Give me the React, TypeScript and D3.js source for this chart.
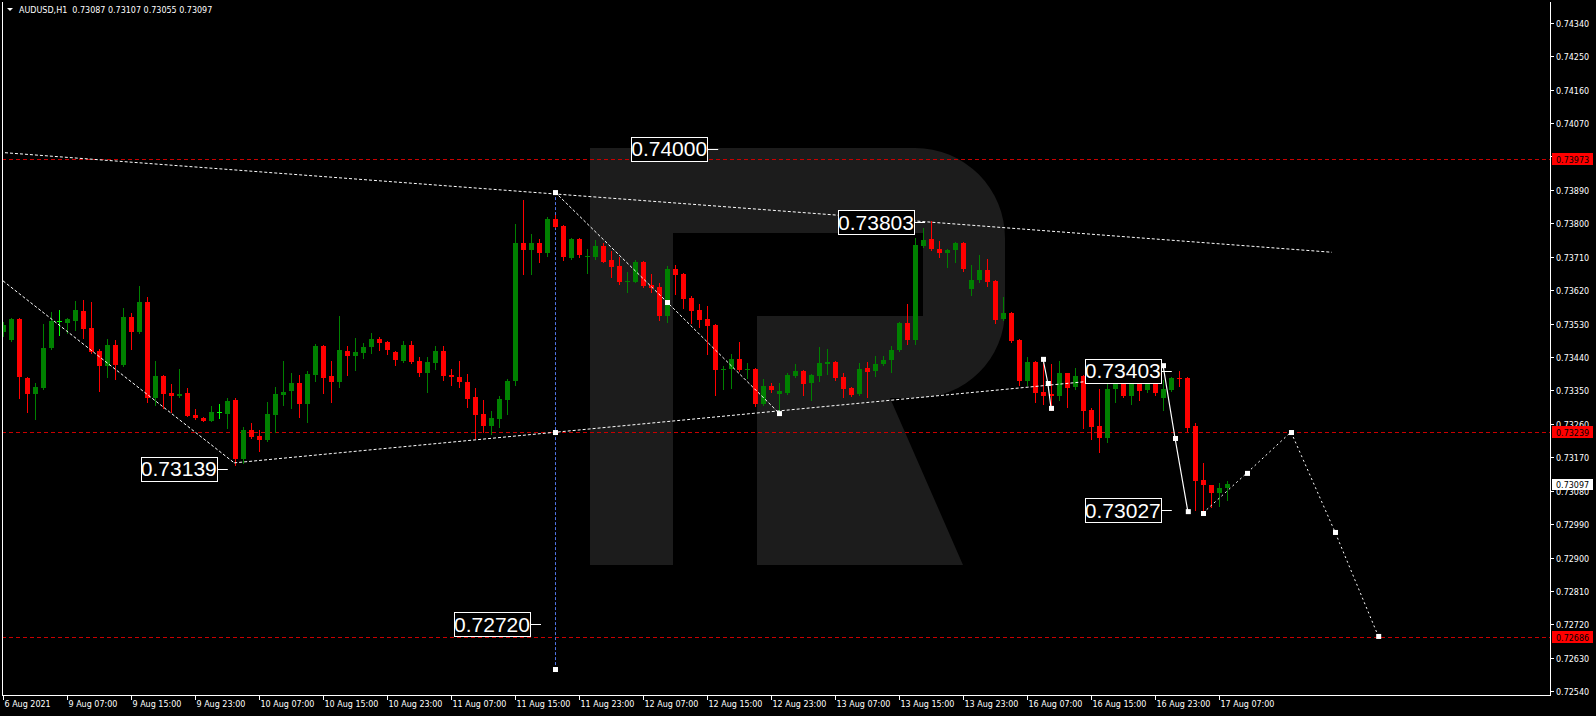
import React, { useEffect } from 'react';
import * as d3 from 'd3';

const W = 1596;
const H = 716;

const symbolName = 'AUDUSD,H1';
const headerValues = ['0.73087', '0.73107', '0.73055', '0.73097'];

const opens = [
  0.73508, 0.73486, 0.73543, 0.73383, 0.73341, 0.73357, 0.73464, 0.73536, 0.73532, 0.73537,
  0.73564, 0.73518, 0.73457, 0.73416, 0.73473, 0.73419, 0.73548, 0.73508, 0.73589, 0.7333,
  0.73389, 0.73343, 0.73335, 0.73343, 0.73285, 0.73276, 0.73268, 0.73292, 0.73287, 0.73324,
  0.73166, 0.73243, 0.73227, 0.73216, 0.73284, 0.73337, 0.73348, 0.7337, 0.73313, 0.73392,
  0.7347, 0.73389, 0.73373, 0.73456, 0.73443, 0.73451, 0.73467, 0.73489, 0.73481, 0.73454,
  0.73429, 0.73473, 0.7343, 0.73397, 0.73424, 0.73456, 0.73392, 0.73386, 0.73373, 0.73332,
  0.73286, 0.73255, 0.73273, 0.73324, 0.73375, 0.73748, 0.73729, 0.73748, 0.73721, 0.73812,
  0.73794, 0.73707, 0.73758, 0.7371, 0.7371, 0.7374, 0.737, 0.73686, 0.73643, 0.73643,
  0.73697, 0.73635, 0.73629, 0.73551, 0.73677, 0.73664, 0.73599, 0.73567, 0.73543, 0.73527,
  0.73405, 0.73408, 0.73435, 0.73405, 0.73408, 0.73313, 0.73362, 0.7334, 0.73343, 0.73389,
  0.73402, 0.7337, 0.73389, 0.73421, 0.73427, 0.73386, 0.73356, 0.7334, 0.7341, 0.73402,
  0.73421, 0.73432, 0.73459, 0.73532, 0.73486, 0.7374, 0.73759, 0.73732, 0.73721, 0.73729,
  0.73748, 0.73624, 0.73646, 0.73675, 0.73645, 0.73543, 0.73559, 0.73486, 0.73375, 0.73427,
  0.73346, 0.7334, 0.73335, 0.73397, 0.73359, 0.73389, 0.73297, 0.73254, 0.73222, 0.73354,
  0.73378, 0.73335, 0.73378, 0.73351, 0.73378, 0.73329, 0.73351, 0.73383, 0.73383, 0.73254,
  0.73109, 0.73095, 0.73074, 0.73087,
];
const highs = [
  0.73535, 0.73545, 0.73544, 0.73385, 0.7337, 0.73529, 0.73562, 0.73567, 0.73544, 0.73591,
  0.73594, 0.73588, 0.73461, 0.73489, 0.73486, 0.73573, 0.73559, 0.73632, 0.73602, 0.7343,
  0.73391, 0.73367, 0.73408, 0.73356, 0.733, 0.73278, 0.73309, 0.73313, 0.73329, 0.73329,
  0.73252, 0.73262, 0.73243, 0.73319, 0.73359, 0.7343, 0.73397, 0.73391, 0.73403, 0.73475,
  0.73472, 0.7343, 0.73551, 0.7347, 0.73491, 0.73478, 0.73505, 0.73494, 0.73482, 0.73455,
  0.73483, 0.73483, 0.7344, 0.7344, 0.7347, 0.7347, 0.73408, 0.7343, 0.73394, 0.73356,
  0.73324, 0.73294, 0.73335, 0.73381, 0.73799, 0.73863, 0.73772, 0.73759, 0.73818, 0.73823,
  0.73796, 0.7376, 0.73761, 0.73732, 0.73756, 0.73748, 0.73726, 0.7371, 0.73669, 0.73702,
  0.73699, 0.73664, 0.7364, 0.73685, 0.73688, 0.73667, 0.73605, 0.73583, 0.73578, 0.73529,
  0.73416, 0.73448, 0.73481, 0.73424, 0.7341, 0.73381, 0.7337, 0.7337, 0.73397, 0.73421,
  0.73405, 0.73394, 0.73467, 0.73462, 0.73429, 0.73397, 0.73358, 0.73424, 0.73427, 0.73443,
  0.73443, 0.7347, 0.73535, 0.73583, 0.73761, 0.73788, 0.73805, 0.73753, 0.73731, 0.7375,
  0.7375, 0.73688, 0.73715, 0.73705, 0.73648, 0.73602, 0.73561, 0.73489, 0.7344, 0.7343,
  0.73424, 0.73421, 0.7343, 0.73397, 0.7341, 0.73391, 0.73303, 0.73354, 0.73378, 0.73405,
  0.73383, 0.734, 0.7338, 0.73397, 0.73386, 0.73378, 0.73386, 0.73403, 0.73385, 0.73262,
  0.73155, 0.73096, 0.73101, 0.73107,
];
const lows = [
  0.73497, 0.73484, 0.7333, 0.73292, 0.73273, 0.73355, 0.73462, 0.735, 0.73505, 0.73513,
  0.73492, 0.73452, 0.73348, 0.73387, 0.73381, 0.73416, 0.73462, 0.73505, 0.73319, 0.73311,
  0.73303, 0.73291, 0.73332, 0.7328, 0.73274, 0.73267, 0.73267, 0.73276, 0.73248, 0.7315,
  0.73154, 0.73221, 0.73188, 0.73215, 0.73239, 0.7331, 0.73302, 0.73278, 0.73265, 0.73376,
  0.73343, 0.73319, 0.73359, 0.73391, 0.73405, 0.73437, 0.73451, 0.73459, 0.73448, 0.73419,
  0.73427, 0.73425, 0.73389, 0.73346, 0.73408, 0.73378, 0.73365, 0.73359, 0.73305, 0.73223,
  0.73239, 0.73233, 0.73252, 0.73286, 0.73365, 0.73664, 0.73664, 0.73696, 0.73713, 0.73789,
  0.73702, 0.73705, 0.7371, 0.73667, 0.73705, 0.73695, 0.73656, 0.73637, 0.73615, 0.73642,
  0.73629, 0.73615, 0.7354, 0.73535, 0.7361, 0.73573, 0.73532, 0.73521, 0.73449, 0.73338,
  0.73353, 0.73356, 0.73403, 0.73383, 0.73308, 0.73311, 0.73346, 0.73284, 0.7334, 0.73386,
  0.73338, 0.73324, 0.73375, 0.73394, 0.73378, 0.73332, 0.73336, 0.73338, 0.73332, 0.73389,
  0.73419, 0.734, 0.73457, 0.73475, 0.73475, 0.73737, 0.73729, 0.7371, 0.73683, 0.73697,
  0.73672, 0.73608, 0.73643, 0.73632, 0.73532, 0.7354, 0.73481, 0.73365, 0.73365, 0.73319,
  0.73313, 0.73297, 0.73324, 0.73305, 0.73354, 0.73249, 0.73219, 0.73184, 0.73211, 0.73319,
  0.73332, 0.73313, 0.73324, 0.73346, 0.73338, 0.73297, 0.73348, 0.73362, 0.73241, 0.73028,
  0.73027, 0.73036, 0.73039, 0.73055,
];
const closes = [
  0.73525, 0.73543, 0.73387, 0.73341, 0.73359, 0.73464, 0.73537, 0.73536, 0.73543, 0.73567,
  0.73516, 0.73454, 0.73416, 0.73473, 0.73419, 0.73548, 0.73508, 0.73589, 0.7333, 0.73389,
  0.73341, 0.73335, 0.7334, 0.73282, 0.73277, 0.73268, 0.73292, 0.73292, 0.73321, 0.73165,
  0.73243, 0.73225, 0.73216, 0.73286, 0.7334, 0.73346, 0.7337, 0.73313, 0.73395, 0.7347,
  0.73383, 0.73373, 0.73459, 0.73443, 0.73454, 0.73467, 0.73489, 0.73478, 0.73459, 0.73432,
  0.73473, 0.73427, 0.73397, 0.73427, 0.73456, 0.73389, 0.73386, 0.73373, 0.73327, 0.73284,
  0.73255, 0.73276, 0.73327, 0.73375, 0.73748, 0.73729, 0.73748, 0.73721, 0.73812, 0.73791,
  0.7371, 0.73758, 0.73715, 0.73713, 0.7374, 0.73697, 0.73683, 0.73643, 0.73645, 0.73697,
  0.73632, 0.73627, 0.73551, 0.73677, 0.73661, 0.73597, 0.73564, 0.7354, 0.73524, 0.73405,
  0.73408, 0.73435, 0.73405, 0.73408, 0.73313, 0.73362, 0.73351, 0.73348, 0.73392, 0.73402,
  0.73367, 0.73392, 0.73424, 0.73427, 0.73383, 0.73354, 0.73338, 0.73408, 0.734, 0.73421,
  0.73432, 0.73459, 0.73532, 0.73486, 0.73742, 0.73756, 0.73731, 0.73721, 0.73729, 0.73748,
  0.73678, 0.73648, 0.73675, 0.73643, 0.7354, 0.73559, 0.73484, 0.73375, 0.73427, 0.73343,
  0.73335, 0.73335, 0.73397, 0.73356, 0.73389, 0.73295, 0.73251, 0.73222, 0.73354, 0.73378,
  0.73335, 0.73378, 0.73348, 0.73378, 0.73343, 0.73354, 0.73383, 0.73381, 0.73249, 0.73106,
  0.73095, 0.73074, 0.73087, 0.73097,
];

const timeLabels = [
  '6 Aug 2021', '9 Aug 07:00', '9 Aug 15:00', '9 Aug 23:00', '10 Aug 07:00', '10 Aug 15:00',
  '10 Aug 23:00', '11 Aug 07:00', '11 Aug 15:00', '11 Aug 23:00', '12 Aug 07:00', '12 Aug 15:00',
  '12 Aug 23:00', '13 Aug 07:00', '13 Aug 15:00', '13 Aug 23:00', '16 Aug 07:00', '16 Aug 15:00',
  '16 Aug 23:00', '17 Aug 07:00',
];
const timeLabelBars = [0, 8, 16, 24, 32, 40, 48, 56, 64, 72, 80, 88, 96, 104, 112, 120, 128, 136, 144, 152];

const priceTicks = [
  0.7254, 0.7263, 0.7272, 0.7281, 0.729, 0.7299, 0.7308, 0.7317, 0.7326, 0.7335, 0.7344,
  0.7353, 0.7362, 0.7371, 0.738, 0.7389, 0.7398, 0.7407, 0.7416, 0.7425, 0.7434,
];

const levelLines = [0.73973, 0.73239, 0.72686];
const currentPrice = 0.73097;

// annotation geometry (bar index, price)
const upperTrend = [[0.25, 0.7399], [166.1, 0.73722]];
const leftDescTrend = [[0, 0.73645], [28.9, 0.73155]];
const lowerAscTrend = [[28.9, 0.73155], [135.5, 0.73374]];
const midDescTrend = [[69, 0.73884], [83, 0.73588], [97, 0.73289]];
const blueVertical = [[69, 0.73884], [69, 0.72597]];
const blueMarkers = [[69, 0.73238], [69, 0.726]];
const solidWave1 = [[130, 0.73435], [130.6, 0.7337], [131, 0.73303]];
const solidWave2 = [[145, 0.73418], [146.5, 0.73222], [148.1, 0.73025]];
const forecastPath = [[150, 0.7302], [155.5, 0.73128], [161, 0.73238], [166.5, 0.72969], [171.9, 0.72689]];

const priceLabels = ['0.74000', '0.73803', '0.73403', '0.73027', '0.73139', '0.72720'];
const priceLabelBars = [89.4, 115.25, 146.1, 146.1, 28.1, 67.25];

const xScale = d3.scaleLinear().domain([0, 153]).range([3, 1227]);
const yScale = d3.scaleLinear().domain([0.7254, 0.7434]).range([691.3, 22.7]);

const PLOT_L = 2;
const PLOT_R = 1550;
const PLOT_T = 2;
const PLOT_B = 695;

const FONT = '"DejaVu Sans", Verdana, sans-serif';

function pts(arr: number[][]) {
  return arr.map(([b, p]) => [xScale(b), yScale(p)] as [number, number]);
}

const lineGen = d3.line<[number, number]>().x((d) => d[0]).y((d) => d[1]);

export default function App() {
  useEffect(() => {
    document.body.style.margin = '0';
    document.body.style.background = '#000';
  }, []);

  const candles = opens.map((o, i) => {
    const c = closes[i];
    const h = highs[i];
    const l = lows[i];
    const cx = Math.round(xScale(i));
    const yH = Math.round(yScale(h));
    const yL = Math.round(yScale(l));
    const yO = Math.round(yScale(o));
    const yC = Math.round(yScale(c));
    const doji = o === c;
    const up = c > o;
    const col = doji ? '#00ff00' : up ? '#008000' : '#ff0000';
    const top = Math.min(yO, yC);
    const bot = Math.max(yO, yC);
    return (
      <g key={i}>
        <rect x={cx} y={yH} width={1} height={Math.max(1, yL - yH + 1)} fill={col} />
        {doji ? (
          <rect x={cx - 2} y={top} width={5} height={1} fill={col} />
        ) : (
          <rect x={cx - 2} y={top} width={5} height={Math.max(1, bot - top)} fill={col} />
        )}
      </g>
    );
  });

  const marker = (p: [number, number], k: string) => (
    <rect key={k} x={p[0] - 2} y={p[1] - 2} width={5} height={5} fill="#fff" />
  );

  const logoPath =
    'M590,148 H915 A90,90 0 0 1 1005,238 V310 A88,88 0 0 1 917,398 H890 L963,565 H757 V316 H673 V565 H590 Z';

  return (
    <svg
      width={W}
      height={H}
      style={{ position: 'fixed', left: 0, top: 0, background: '#000', display: 'block' }}
      xmlns="http://www.w3.org/2000/svg"
    >
      <defs>
        <clipPath id="plot">
          <rect x={PLOT_L + 1} y={PLOT_T} width={PLOT_R - PLOT_L - 1} height={PLOT_B - PLOT_T} />
        </clipPath>
      </defs>
      <rect x={0} y={0} width={W} height={H} fill="#000" />

      {/* watermark logo */}
      <path d={logoPath} fill="#1c1c1c" />
      <rect x={673} y={233} width={250} height={83} fill="#000" />

      <g clipPath="url(#plot)">
        {/* level lines */}
        {levelLines.map((p, i) => (
          <line
            key={i}
            x1={PLOT_L}
            x2={PLOT_R}
            y1={Math.round(yScale(p)) + 0.5}
            y2={Math.round(yScale(p)) + 0.5}
            stroke="#c80000"
            strokeDasharray="4,3"
          />
        ))}

        {/* blue vertical */}
        <path
          d={lineGen(pts(blueVertical).map(([x, y]) => [Math.round(x) + 0.5, y]) as [number, number][]) || ''}
          stroke="#4f72e3"
          strokeDasharray="3,2"
          fill="none"
        />

        <g shapeRendering="crispEdges">{candles}</g>

        {/* dotted trend lines */}
        {[upperTrend, leftDescTrend, lowerAscTrend, midDescTrend].map((ln, i) => (
          <path key={i} d={lineGen(pts(ln)) || ''} stroke="#fff" strokeDasharray="3,2" fill="none" strokeWidth={1} />
        ))}
        <path d={lineGen(pts(forecastPath)) || ''} stroke="#fff" strokeDasharray="2,3" fill="none" strokeWidth={1} />

        {/* solid waves */}
        <path d={lineGen(pts(solidWave1)) || ''} stroke="#fff" fill="none" strokeWidth={1.2} />
        <path d={lineGen(pts(solidWave2)) || ''} stroke="#fff" fill="none" strokeWidth={1.2} />

        {pts(solidWave1).map((p, i) => marker(p, 'w1' + i))}
        {pts(solidWave2).map((p, i) => marker(p, 'w2' + i))}
        {pts(midDescTrend).map((p, i) => marker(p, 'md' + i))}
        {pts(blueMarkers).map((p, i) => marker(p, 'bm' + i))}
        {pts(forecastPath).map((p, i) => marker(p, 'fc' + i))}

        {/* price annotation labels */}
        {priceLabels.map((t, i) => {
          const ex = xScale(priceLabelBars[i]);
          const cy = yScale(parseFloat(t));
          const bw = 76;
          const bh = 24;
          const bx = ex - 11 - bw;
          return (
            <g key={t + i}>
              <line x1={bx + bw} x2={ex} y1={Math.round(cy) + 0.5} y2={Math.round(cy) + 0.5} stroke="#fff" />
              <rect x={Math.round(bx) + 0.5} y={Math.round(cy - bh / 2) + 0.5} width={bw} height={bh} fill="#000" stroke="#fff" />
              <text
                x={bx + bw / 2}
                y={cy + 7.5}
                textAnchor="middle"
                fill="#fff"
                fontFamily='"Liberation Sans", Arial, sans-serif'
                fontSize={21}
              >
                {t}
              </text>
            </g>
          );
        })}
      </g>

      {/* frame */}
      <g shapeRendering="crispEdges" stroke="#fff">
        <line x1={PLOT_L + 0.5} x2={PLOT_L + 0.5} y1={PLOT_T} y2={PLOT_B + 1} />
        <line x1={PLOT_R + 0.5} x2={PLOT_R + 0.5} y1={PLOT_T} y2={PLOT_B + 1} />
        <line x1={PLOT_L} x2={PLOT_R + 1} y1={PLOT_B + 0.5} y2={PLOT_B + 0.5} />
      </g>

      {/* right axis */}
      <g fontFamily={FONT} fontSize={8} fill="#fff">
        {priceTicks.map((t) => {
          const yy = Math.round(yScale(t)) + 0.5;
          return (
            <g key={t}>
              <line x1={PLOT_R + 1} x2={PLOT_R + 4} y1={yy} y2={yy} stroke="#fff" shapeRendering="crispEdges" />
              <text x={1556} y={yy + 3}>
                {t.toFixed(5)}
              </text>
            </g>
          );
        })}
        {levelLines.map((p) => {
          const yy = Math.round(yScale(p));
          return (
            <g key={'lv' + p}>
              <rect x={1552} y={yy - 6} width={41} height={12} fill="#ff0000" />
              <text x={1556} y={yy + 3.5} fill="#000">
                {p.toFixed(5)}
              </text>
            </g>
          );
        })}
        <g>
          <rect x={1552} y={Math.round(yScale(currentPrice)) - 5} width={41} height={11} fill="#fff" />
          <text x={1556} y={Math.round(yScale(currentPrice)) + 3.5} fill="#000">
            {currentPrice.toFixed(5)}
          </text>
        </g>
      </g>

      {/* bottom axis */}
      <g fontFamily={FONT} fontSize={8} fill="#fff">
        {timeLabels.map((t, i) => {
          const xx = Math.round(xScale(timeLabelBars[i])) + 0.5;
          return (
            <g key={t}>
              <line x1={xx} x2={xx} y1={PLOT_B + 1} y2={PLOT_B + 5} stroke="#fff" shapeRendering="crispEdges" />
              <text x={xx + 1} y={707}>
                {t}
              </text>
            </g>
          );
        })}
      </g>

      {/* header */}
      <path d="M7,8 L13,8 L10,11 Z" fill="#fff" />
      <text x={19} y={13} fontFamily={FONT} fontSize={8} fill="#fff">
        {symbolName + '\u00a0\u00a0' + headerValues.join(' ')}
      </text>
    </svg>
  );
}
